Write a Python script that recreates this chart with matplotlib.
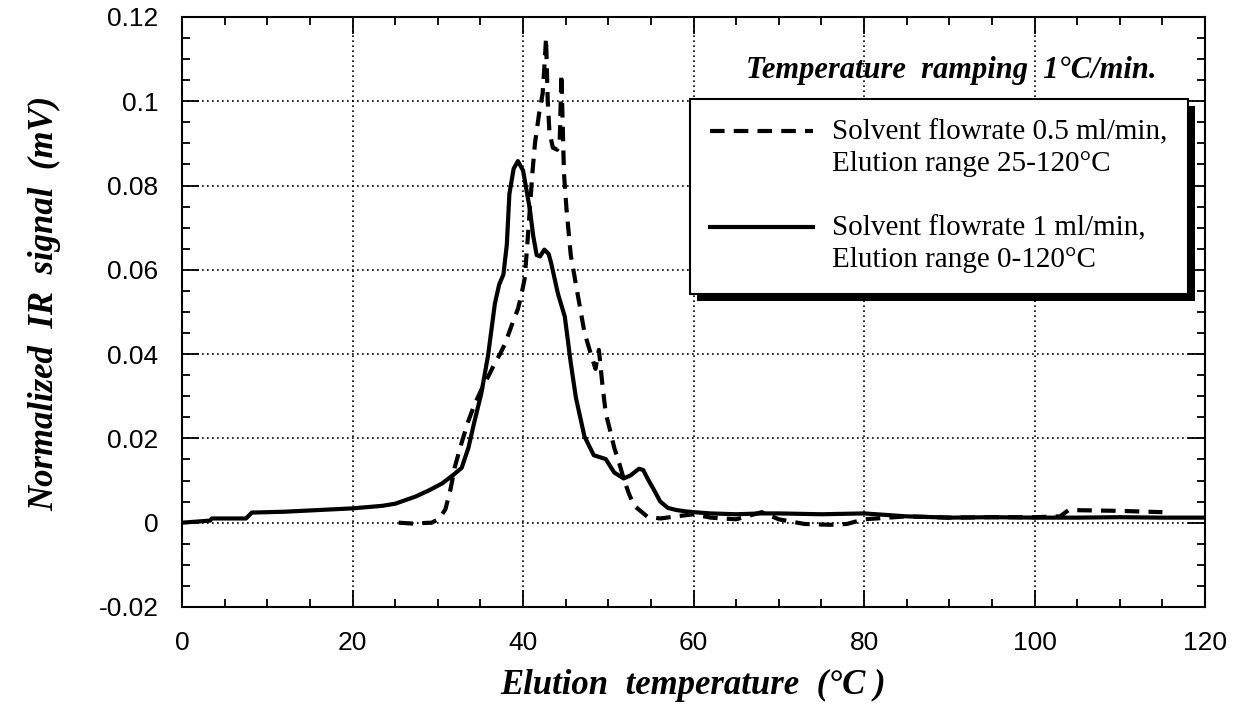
import matplotlib
matplotlib.use('Agg')
import matplotlib.pyplot as plt
from matplotlib.legend_handler import HandlerLine2D
from matplotlib.patches import Rectangle
from matplotlib.ticker import MultipleLocator, FuncFormatter

# solvent flowrate 1 ml/min, elution 0-120 C
t_fast = [0, 2, 3.3, 3.5, 7.5, 8.2, 12, 16, 20, 23.5, 25, 27.4, 29, 30.5, 31.8,
          32.8, 33.6, 34.3, 35.1, 35.9, 36.7, 37.2, 37.7, 38.1, 38.4, 38.9, 39.4,
          40.0, 40.4, 40.8, 41.2, 41.6, 42.0, 42.5, 43.0, 43.3, 44.1, 44.9, 45.6,
          46.2, 47.2, 48.3, 49.7, 50.7, 51.8, 52.6, 53.6, 54.1, 54.6, 55.3, 56.1,
          57, 58, 59, 60, 62, 65, 68, 70, 75, 80, 85, 90, 95, 100, 105, 110, 115, 120]
ir_fast = [0.0, 0.0003, 0.0005, 0.001, 0.001, 0.0024, 0.0026, 0.003, 0.0034, 0.004,
           0.0045, 0.0062, 0.0077, 0.0093, 0.0113, 0.013, 0.0178, 0.024, 0.0306,
           0.0397, 0.052, 0.0565, 0.0589, 0.066, 0.078, 0.084, 0.0858, 0.0836,
           0.079, 0.0744, 0.068, 0.0635, 0.0632, 0.0648, 0.0638, 0.0616, 0.0543,
           0.0489, 0.0379, 0.0297, 0.0205, 0.016, 0.0151, 0.0119, 0.0105, 0.0112,
           0.0128, 0.0125, 0.0105, 0.008, 0.005, 0.0035, 0.003, 0.0027, 0.0025,
           0.0022, 0.002, 0.0022, 0.0022, 0.002, 0.0022, 0.0015, 0.0012, 0.0013,
           0.0012, 0.0012, 0.0013, 0.0012, 0.0012]

# solvent flowrate 0.5 ml/min, elution 25-120 C
t_slow = [25.4, 27, 29.3, 30.2, 30.9, 31.5, 32.0, 32.8, 33.6, 34.3, 35.1, 36.0,
          36.7, 37.3, 37.9, 38.7, 39.4, 39.8, 40.2, 40.5, 40.8, 41.1, 41.4, 41.9,
          42.3, 42.5, 42.7, 42.9, 43.1, 43.5, 44.0, 44.3, 44.5, 44.8, 45.1, 45.6,
          46.4, 47.2, 48.0, 48.5, 48.9, 49.3, 49.7, 50.2, 50.7, 51.3, 51.8, 52.4,
          53.0, 54.6, 56.1, 58, 60, 62, 65, 68, 70, 73, 76, 78, 80, 85, 90, 95,
          100, 103, 104, 110, 115]
ir_slow = [0.0, -0.0002, 0.0, 0.001, 0.0032, 0.008, 0.0132, 0.019, 0.0242, 0.028,
           0.0315, 0.035, 0.0379, 0.040, 0.0425, 0.047, 0.0507, 0.054, 0.058,
           0.066, 0.0744, 0.083, 0.09, 0.0973, 0.1018, 0.108, 0.115, 0.100, 0.0927,
           0.089, 0.0885, 0.090, 0.1065, 0.083, 0.0744, 0.0635, 0.0543, 0.0452,
           0.0397, 0.0365, 0.041, 0.033, 0.026, 0.022, 0.0178, 0.014, 0.0105,
           0.007, 0.0041, 0.0014, 0.001, 0.0015, 0.002, 0.0012, 0.0008, 0.0025,
           0.0008, -0.0003, -0.0005, -0.0003, 0.0008, 0.0015, 0.0012, 0.0013,
           0.0013, 0.0015, 0.003, 0.0028, 0.0025]

lab_slow = 'Solvent flowrate 0.5 ml/min,\nElution range 25-120\u00b0C'
lab_fast = 'Solvent flowrate 1 ml/min,\nElution range 0-120\u00b0C'

serif = 'Liberation Serif'
sans = 'Liberation Sans'


class FirstLineHandler(HandlerLine2D):
    # put the legend sample beside the first line of a two-line label
    def __init__(self, shift, **kw):
        super().__init__(**kw)
        self.shift = shift

    def create_artists(self, legend, orig_handle, xdescent, ydescent,
                       width, height, fontsize, trans):
        return super().create_artists(legend, orig_handle, xdescent,
                                      ydescent - 2 * self.shift, width, height,
                                      fontsize, trans)


fig = plt.figure(figsize=(12.39, 7.08), dpi=100)
ax = fig.add_axes([0.1469, 0.1427, 0.8257, 0.8333])

l_slow, = ax.plot(t_slow, ir_slow, color='black', lw=3, linestyle=(0, (3.5, 2.2)))
l_fast, = ax.plot(t_fast, ir_fast, color='black', lw=3)

ax.set_xlim(0, 120)
ax.set_ylim(-0.02, 0.12)
ax.xaxis.set_major_locator(MultipleLocator(20))
ax.xaxis.set_minor_locator(MultipleLocator(5))
ax.yaxis.set_major_locator(MultipleLocator(0.02))
ax.yaxis.set_minor_locator(MultipleLocator(0.005))
ax.yaxis.set_major_formatter(FuncFormatter(lambda v, p: ('%.2f' % v).rstrip('0').rstrip('.') if abs(v) > 1e-9 else '0'))
ax.tick_params(which='both', direction='in', top=True, right=True, width=1.3)
ax.tick_params(which='major', length=12, pad=17, labelsize=19)
ax.tick_params(which='minor', length=6)
for lab in ax.get_xticklabels() + ax.get_yticklabels():
    lab.set_family(sans)
for s in ax.spines.values():
    s.set_linewidth(1.5)
ax.grid(True, which='major', color='black', linestyle=(0, (1, 2)), linewidth=1.2)

ax.set_xlabel('Elution  temperature  (\u00b0C )', family=serif, style='italic',
              weight='bold', fontsize=25)
ax.xaxis.set_label_coords(0.5, -0.105)
ax.set_ylabel('Normalized  IR  signal  (mV)', family=serif, style='italic',
              weight='bold', fontsize=25)
ax.yaxis.set_label_coords(-0.118, 0.515)

ax.text(0.752, 0.91, 'Temperature  ramping  1\u00b0C/min.', transform=ax.transAxes,
        ha='center', va='center', family=serif, style='italic', weight='bold',
        fontsize=22)

leg = ax.legend([l_slow, l_fast], [lab_slow, lab_fast], loc='upper left',
                bbox_to_anchor=(0.4966, 0.561, 0.4868, 0.3), mode='expand',
                borderaxespad=0, fancybox=False, framealpha=1, edgecolor='black',
                prop={'family': serif, 'size': 21}, handlelength=3.5,
                handletextpad=0.65, labelspacing=1.3, borderpad=0.7,
                handler_map={l_slow: FirstLineHandler(12.5), l_fast: FirstLineHandler(12.5)})
leg.get_frame().set_linewidth(1.5)
for t in leg.get_texts():
    t.set_linespacing(1.3)

fig.canvas.draw()
bb = leg.get_window_extent().transformed(fig.transFigure.inverted())
ax.add_patch(Rectangle((bb.x0 + 7 / 1239, bb.y0 - 7 / 708), bb.width, bb.height,
                       transform=fig.transFigure, facecolor='black',
                       edgecolor='none', zorder=4.9, clip_on=False))

plt.savefig('out.png', dpi=100)
